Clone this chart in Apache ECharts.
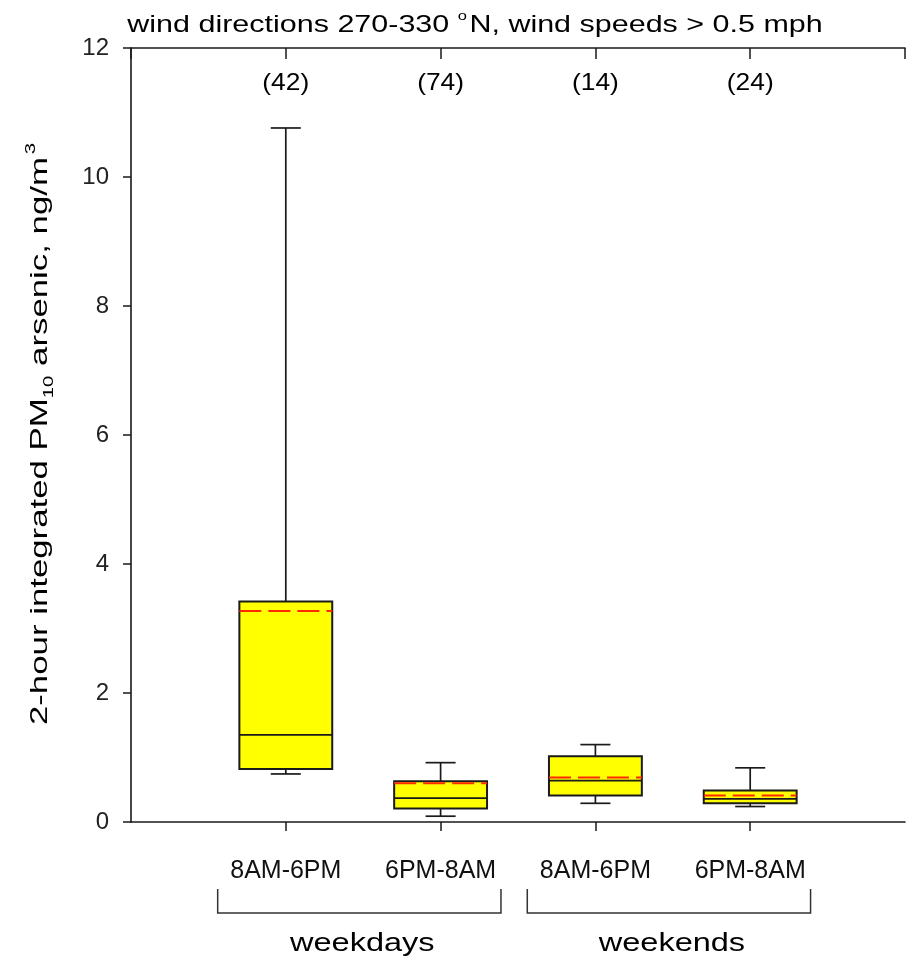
<!DOCTYPE html>
<html>
<head>
<meta charset="utf-8">
<script src="https://cdn.jsdelivr.net/npm/echarts@6/dist/echarts.min.js"></script>
<style>
html, body { margin: 0; padding: 0; background: #fff; }
#chart { width: 909px; height: 960px; }
</style>
</head>
<body>
<div id="chart"></div>
<script>
/* data */
var categories  = ['8AM-6PM', '6PM-8AM', '8AM-6PM', '6PM-8AM'];
var counts      = ['(42)', '(74)', '(14)', '(24)'];
var whiskerLow  = [0.745, 0.09, 0.29, 0.24];
var q1          = [0.82, 0.21, 0.41, 0.29];
var median      = [1.35, 0.37, 0.64, 0.36];
var q3          = [3.42, 0.63, 1.02, 0.49];
var whiskerHigh = [10.76, 0.92, 1.20, 0.84];
var mean        = [3.27, 0.60, 0.69, 0.41];
var groups      = ['weekdays', 'weekends'];
var groupFrom   = [1, 3];
var groupTo     = [2, 4];
var countLevel  = 11.45;

var FONT = '"Liberation Sans", Arial, sans-serif';
var INK = '#1a1a1a';

var boxData = categories.map(function (c, i) {
    return [i + 1, whiskerLow[i], q1[i], median[i], q3[i], whiskerHigh[i], mean[i]];
});
var groupData = groups.map(function (g, i) {
    return [groupFrom[i], groupTo[i]];
});

function renderBox(params, api) {
    var i = params.dataIndex;
    var x = api.value(0);
    var unit = api.size([1, 0])[0];
    var half = unit * 0.3;
    var cap = unit * 0.097;
    var cx = api.coord([x, 0])[0];
    var y = function (v) { return api.coord([x, v])[1]; };
    var yLo = y(api.value(1)), yQ1 = y(api.value(2)), yMed = y(api.value(3));
    var yQ3 = y(api.value(4)), yHi = y(api.value(5)), yMean = y(api.value(6));
    var line = { stroke: INK, lineWidth: 1.7 };
    return {
        type: 'group',
        children: [
            { type: 'line', shape: { x1: cx, y1: yQ3, x2: cx, y2: yHi }, style: line },
            { type: 'line', shape: { x1: cx - cap, y1: yHi, x2: cx + cap, y2: yHi }, style: line },
            { type: 'line', shape: { x1: cx, y1: yQ1, x2: cx, y2: yLo }, style: line },
            { type: 'line', shape: { x1: cx - cap, y1: yLo, x2: cx + cap, y2: yLo }, style: line },
            { type: 'rect', shape: { x: cx - half, y: yQ3, width: half * 2, height: yQ1 - yQ3 },
              style: { fill: '#ffff00', stroke: INK, lineWidth: 2 } },
            { type: 'line', shape: { x1: cx - half, y1: yMed, x2: cx + half, y2: yMed }, style: line },
            { type: 'line', shape: { x1: cx - half, y1: yMean, x2: cx + half, y2: yMean },
              style: { stroke: '#ff2a00', lineWidth: 2, lineDash: [22, 7] } },
            { type: 'text', x: cx, y: y(countLevel), scaleX: 1.1,
              style: { text: counts[i], font: '24px ' + FONT, fill: '#000', align: 'center', verticalAlign: 'middle' } }
        ]
    };
}

function renderGroup(params, api) {
    var i = params.dataIndex;
    var xl = api.coord([api.value(0) - 0.44, 0])[0];
    var xr = api.coord([api.value(1) + 0.39, 0])[0];
    var y0 = api.coord([0, 0])[1];
    var top = y0 + 67, bot = y0 + 91;
    var st = { stroke: '#333', lineWidth: 1.5, fill: null };
    return {
        type: 'group',
        children: [
            { type: 'polyline', shape: { points: [[xl, top], [xl, bot], [xr, bot], [xr, top]] }, style: st },
            { type: 'text', x: (xl + xr) / 2 + 3, y: y0 + 122, scaleX: 1.25,
              style: { text: groups[i], font: '26px ' + FONT, fill: '#000', align: 'center', verticalAlign: 'middle' } }
        ]
    };
}

var myChart = echarts.init(document.getElementById('chart'));
var axisLine = { show: true, lineStyle: { color: INK, width: 1.6 } };

var option = {
    backgroundColor: '#fff',
    animation: false,
    textStyle: { fontFamily: FONT },
    graphic: [{
        type: 'text', x: 475, y: 22, scaleX: 1.27,
        style: {
            text: '{a|wind directions 270-330 }{s|o}{a|N, wind speeds > 0.5 mph}',
            align: 'center', verticalAlign: 'middle',
            rich: {
                a: { fontSize: 24, fill: '#000', fontFamily: FONT, lineHeight: 30, verticalAlign: 'bottom' },
                s: { fontSize: 13, fill: '#000', fontFamily: FONT, lineHeight: 30, verticalAlign: 'top', padding: [3, 2, 0, 0] }
            }
        }
    }, {
        type: 'text', x: 40, y: 434, rotation: Math.PI / 2, scaleX: 1.45,
        style: {
            text: '{a|2-hour integrated PM}{b|10}{a| arsenic, ng/m}{c|3}',
            align: 'center', verticalAlign: 'middle',
            rich: {
                a: { fontSize: 24, fill: '#000', fontFamily: FONT, lineHeight: 32, verticalAlign: 'middle' },
                b: { fontSize: 14, fill: '#000', fontFamily: FONT, lineHeight: 32, verticalAlign: 'bottom', padding: [10, 0, 0, 0] },
                c: { fontSize: 14, fill: '#000', fontFamily: FONT, lineHeight: 32, verticalAlign: 'top', padding: [0, 0, 10, 2] }
            }
        }
    }],
    grid: { left: 131, right: 4, top: 48, bottom: 138 },
    xAxis: [{
        type: 'value', position: 'bottom', min: 0, max: 5, interval: 1,
        axisLine: axisLine,
        axisTick: { show: true, length: 9, customValues: [1, 2, 3, 4], lineStyle: { color: INK, width: 1.5 } },
        axisLabel: {
            margin: 37, fontSize: 25, color: '#111', fontFamily: FONT,
            formatter: function (v) { return categories[v - 1] || ''; }
        },
        splitLine: { show: false }
    }, {
        type: 'value', position: 'top', min: 0, max: 5, interval: 1,
        axisLine: axisLine,
        axisTick: { show: true, inside: true, length: 11, lineStyle: { color: INK, width: 1.5 } },
        axisLabel: { show: false },
        splitLine: { show: false }
    }],
    yAxis: {
        type: 'value', min: 0, max: 12, interval: 2,
        axisLine: axisLine,
        axisTick: { show: true, length: 8, lineStyle: { color: INK, width: 1.5 } },
        axisLabel: { margin: 22, fontSize: 24, color: '#222', fontFamily: FONT },
        splitLine: { show: false }
    },
    series: [{
        type: 'custom', xAxisIndex: 0, renderItem: renderBox,
        encode: { x: 0, y: [1, 2, 3, 4, 5, 6] },
        data: boxData, z: 3
    }, {
        type: 'custom', xAxisIndex: 0, renderItem: renderGroup,
        encode: { x: [0, 1] }, clip: false,
        data: groupData, silent: true
    }]
};

myChart.setOption(option);
</script>
</body>
</html>
